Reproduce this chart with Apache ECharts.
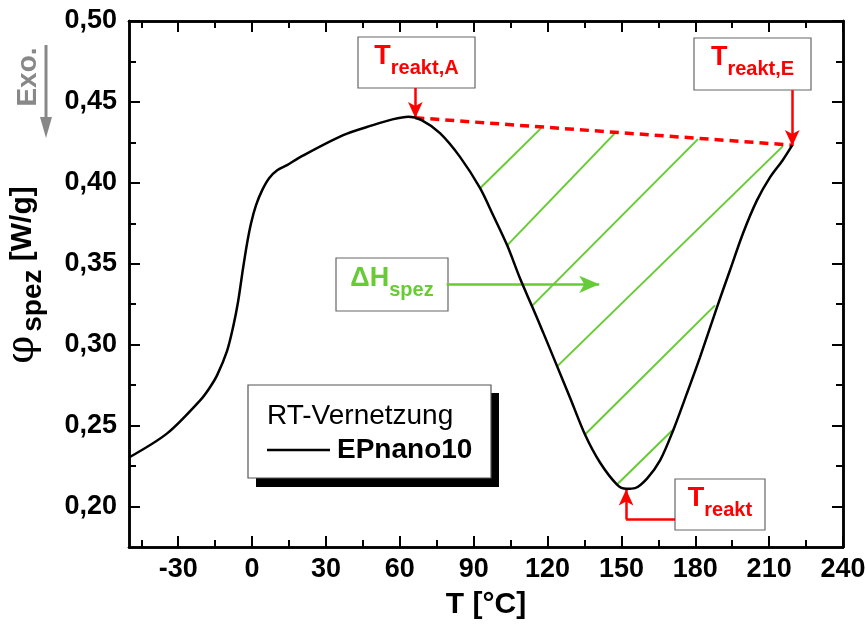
<!DOCTYPE html>
<html>
<head>
<meta charset="utf-8">
<script src="https://cdn.jsdelivr.net/npm/echarts@6/dist/echarts.min.js"></script>
<style>
  html, body { margin: 0; padding: 0; background: #fff; }
  #main { width: 866px; height: 625px; }
</style>
</head>
<body>
<div id="main"></div>
<script>
var FONT = '"Liberation Sans", Arial, sans-serif';

// DSC curve (T in °C, phi in W/g)
var curveT = [-50, -34.5, -21.1, -17.5, -14.2, -10.2, -7.7, -5.7, -3.7, -2.0, -0.4, 1.6, 4.1, 6.9, 10.2, 14.2, 19.5,
  37.0, 49.1, 57.0, 63.5, 69.0, 76.3, 84.5, 92.6, 97.9, 103.6, 108.8, 113.7, 118.2, 123.9, 129.1,
  135.2, 141.3, 148.2, 152.0, 155.5, 160.4, 165.7, 171.0, 176.6, 181.9, 188.8, 194.1, 199.4, 205.1,
  210.4, 215.5, 219.4];
var curvePhi = [0.2303, 0.2452, 0.2656, 0.2728, 0.2812, 0.2960, 0.3110, 0.3265, 0.3470, 0.3630, 0.3752, 0.3862,
  0.3955, 0.4029, 0.4078, 0.4109, 0.4159, 0.4295, 0.4357, 0.4392, 0.4408, 0.4386, 0.4307, 0.4159,
  0.3967, 0.3800, 0.3614, 0.3410, 0.3237, 0.3076, 0.2866, 0.2674, 0.2445, 0.2272, 0.2136, 0.2110,
  0.2114, 0.2173, 0.2285, 0.2470, 0.2699, 0.2922, 0.3231, 0.3460, 0.3689, 0.3893, 0.4035, 0.4140,
  0.4233];

// baseline between T_reakt,A and T_reakt,E
var baseT = [66.3, 219.4];
var basePhi = [0.4402, 0.4233];

// hatch lines: start on curve, end on baseline / curve
var hatchStart = [[92.6, 0.3967], [103.6, 0.3614], [113.7, 0.3240], [123.9, 0.2866], [135.2, 0.2445], [148.2, 0.2136]];
var hatchEnd = [[117.4, 0.4338], [147.4, 0.4307], [181.1, 0.4270], [215.6, 0.4227], [188.0, 0.3243], [170.6, 0.2470]];

// axis ticks
var xMajor = [-30, 0, 30, 60, 90, 120, 150, 180, 210, 240];
var xMinor = [-45, -15, 15, 45, 75, 105, 135, 165, 195, 225];
var yMajor = [0.20, 0.25, 0.30, 0.35, 0.40, 0.45, 0.50];
var yMinor = [0.225, 0.275, 0.325, 0.375, 0.425, 0.475];

var red = '#ff0000';
var green = '#66cc33';

var chart = echarts.init(document.getElementById('main'));

function xAx(pos, ticks, len, showLabel) {
  return {
    type: 'value', position: pos, min: -50, max: 240,
    axisLine: { show: true, onZero: false, lineStyle: { color: '#000', width: 2.5 } },
    axisTick: { show: true, inside: true, length: len, customValues: ticks, lineStyle: { color: '#000', width: 2 } },
    axisLabel: {
      show: showLabel, customValues: ticks, margin: 9,
      color: '#000', fontFamily: FONT, fontWeight: 'bold', fontSize: 27
    },
    splitLine: { show: false }
  };
}
function yAx(pos, ticks, len, showLabel) {
  return {
    type: 'value', position: pos, min: 0.175, max: 0.5,
    axisLine: { show: true, onZero: false, lineStyle: { color: '#000', width: 2.5 } },
    axisTick: { show: true, inside: true, length: len, customValues: ticks, lineStyle: { color: '#000', width: 2 } },
    axisLabel: {
      show: showLabel, customValues: ticks, margin: 12,
      color: '#000', fontFamily: FONT, fontWeight: 'bold', fontSize: 27,
      formatter: function (v) { return v.toFixed(2).replace('.', ','); }
    },
    splitLine: { show: false }
  };
}

var xAxes = [xAx('bottom', xMajor, 11, true), xAx('bottom', xMinor, 7, false),
             xAx('top', xMajor, 11, false), xAx('top', xMinor, 7, false)];
xAxes[0].name = 'T [°C]';
xAxes[0].nameLocation = 'middle';
xAxes[0].nameGap = 43;
xAxes[0].nameTextStyle = { color: '#000', fontFamily: FONT, fontWeight: 'bold', fontSize: 30 };

var yAxes = [yAx('left', yMajor, 11, true), yAx('left', yMinor, 7, false),
             yAx('right', yMajor, 11, false), yAx('right', yMinor, 7, false)];
yAxes[0].name = '{phi|φ}{sub|spez}{b| [W/g]}';
yAxes[0].nameLocation = 'middle';
yAxes[0].nameGap = 82;
yAxes[0].nameTextStyle = {
  color: '#000',
  rich: {
    phi: { fontFamily: '"DejaVu Serif", serif', fontSize: 40, color: '#000', verticalAlign: 'bottom', lineHeight: 36, padding: [0, 4, 4, 18] },
    sub: { fontFamily: FONT, fontWeight: 'bold', fontSize: 28, color: '#000', verticalAlign: 'bottom', lineHeight: 28 },
    b: { fontFamily: FONT, fontWeight: 'bold', fontSize: 30, color: '#000', verticalAlign: 'bottom', lineHeight: 30, padding: [0, 0, 9, 0] }
  }
};

var curveData = [];
for (var i = 0; i < curveT.length; i++) curveData.push([curveT[i], curvePhi[i]]);

var baseData = [];
for (var i = 0; i < baseT.length; i++) baseData.push([baseT[i], basePhi[i]]);

var series = [{
  name: 'EPnano10',
  type: 'line',
  data: curveData,
  smooth: 0.3,
  showSymbol: false,
  symbol: 'none',
  lineStyle: { color: '#000', width: 2.5 },
  itemStyle: { color: '#000' },
  z: 5
}, {
  name: 'Basislinie',
  type: 'line',
  data: baseData,
  showSymbol: false,
  symbol: 'none',
  lineStyle: { color: red, width: 3.5, type: [9, 6] },
  z: 4,
  markLine: {
    silent: true,
    symbol: ['none', 'arrow'],
    symbolSize: [11, 16],
    label: { show: false },
    lineStyle: { color: red, width: 2.5, type: 'solid' },
    data: [
      [{ coord: [66.3, 0.4586] }, { coord: [66.3, 0.4400] }],
      [{ coord: [219.4, 0.4573] }, { coord: [219.4, 0.4228] }],
      [{ coord: [171.8, 0.1920], symbol: 'none' }, { coord: [151.9, 0.1920], symbol: 'none' }],
      [{ coord: [151.9, 0.1920] }, { coord: [151.9, 0.2106] }]
    ]
  }
}];

for (var k = 0; k < hatchStart.length; k++) {
  var s = {
    name: 'hatch' + k,
    type: 'line',
    data: [hatchStart[k], hatchEnd[k]],
    showSymbol: false,
    symbol: 'none',
    lineStyle: { color: green, width: 2 },
    z: 3
  };
  if (k === 0) {
    s.markLine = {
      silent: true,
      symbol: ['none', 'arrow'],
      symbolSize: [13, 20],
      label: { show: false },
      lineStyle: { color: green, width: 2.5, type: 'solid' },
      data: [[{ coord: [79.0, 0.3373] }, { coord: [141.0, 0.3373] }]]
    };
  }
  series.push(s);
}

function box(x, y, w, h, rich, text) {
  return {
    type: 'group',
    z: 30,
    children: [{
      type: 'rect',
      shape: { x: x, y: y, width: w, height: h },
      style: { fill: '#fff', stroke: '#666', lineWidth: 1.2 }
    }, {
      type: 'text',
      style: {
        x: x + w / 2, y: y + h / 2 + 2, align: 'center', verticalAlign: 'middle',
        text: text, rich: rich
      }
    }]
  };
}

function subRich(color) {
  return {
    a: { fontFamily: FONT, fontWeight: 'bold', fontSize: 27, fill: color, verticalAlign: 'bottom', lineHeight: 27, padding: [0, 0, 8, 0] },
    s: { fontFamily: FONT, fontWeight: 'bold', fontSize: 20, fill: color, verticalAlign: 'bottom', lineHeight: 20 }
  };
}

var option = {
  animation: false,
  backgroundColor: '#fff',
  grid: { left: 129, right: 23, top: 21, bottom: 78, containLabel: false, outerBoundsMode: 'none' },
  xAxis: xAxes,
  yAxis: yAxes,
  legend: {
    data: ['EPnano10'],
    left: 262,
    top: 431,
    icon: 'rect',
    itemWidth: 63,
    itemHeight: 2.5,
    itemGap: 10,
    z: 40,
    selectedMode: false,
    textStyle: { color: '#000', fontFamily: FONT, fontWeight: 'bold', fontSize: 28, padding: [0, 0, 0, 2] }
  },
  series: series,
  graphic: [
    // legend frame with shadow
    { type: 'rect', z: 20, shape: { x: 256, y: 393, width: 243, height: 94 }, style: { fill: '#000' } },
    { type: 'rect', z: 21, shape: { x: 248, y: 385, width: 243, height: 93 }, style: { fill: '#fff', stroke: '#555', lineWidth: 1.2 } },
    { type: 'text', z: 22, style: { x: 267, y: 416, text: 'RT-Vernetzung', verticalAlign: 'middle', font: '28px ' + FONT, fill: '#000' } },
    // Exo. marker
    { type: 'text', z: 22, rotation: Math.PI / 2, x: 28, y: 77,
      style: { text: 'Exo.', align: 'center', verticalAlign: 'middle', font: 'bold 28px ' + FONT, fill: '#888' } },
    { type: 'line', z: 22, shape: { x1: 46, y1: 45, x2: 46, y2: 120 }, style: { stroke: '#888', lineWidth: 3 } },
    { type: 'polygon', z: 22, shape: { points: [[40, 117], [52, 117], [46, 138]] }, style: { fill: '#888' } },
    // annotation boxes
    box(358, 37, 117, 51, subRich(red), '{a|T}{s|reakt,A}'),
    box(694, 38, 117, 52, subRich(red), '{a|T}{s|reakt,E}'),
    box(336, 258, 112, 53, subRich(green), '{a|ΔH}{s|spez}'),
    box(675, 479, 90, 51, subRich(red), '{a|T}{s|reakt}')
  ]
};

chart.setOption(option);
</script>
</body>
</html>
